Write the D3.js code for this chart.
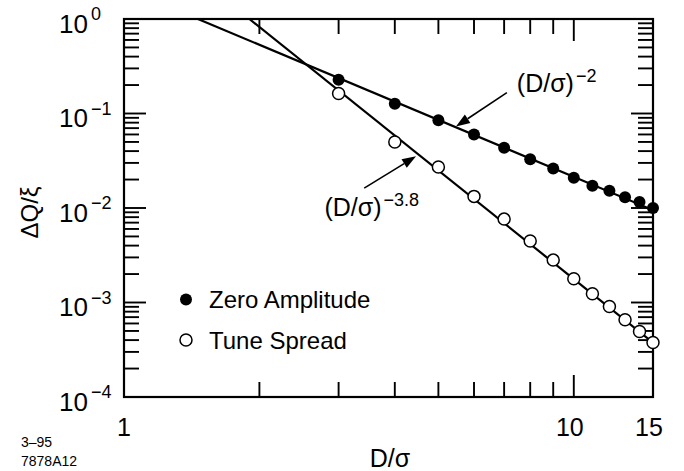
<!DOCTYPE html>
<html><head><meta charset="utf-8">
<script src="https://cdn.jsdelivr.net/npm/d3@7"></script>
<style>
body{margin:0;background:#fff}
svg{display:block}
text{font-family:"Liberation Sans",Arial,Helvetica,sans-serif;fill:#000}
</style>
</head><body>
<svg id="c" width="684" height="471"></svg>
<script>
// ---- data ----
const dOverSigma = [3,4,5,6,7,8,9,10,11,12,13,14,15];
const zeroAmplitude = [0.228,0.127,0.085,0.060,0.0435,0.0328,0.0262,0.0209,0.0172,0.0152,0.0130,0.0116,0.0100];
const tuneSpread = [0.1625,0.0499,0.0272,0.01327,0.00763,0.00448,0.00281,0.00178,0.00124,0.000907,0.000656,0.000493,0.000377];
const zeroFitX = [1.46, 15], zeroFitY = [1.0, 0.0095];
const tuneFitX = [1.9, 15],  tuneFitY = [1.0, 0.000377];
const xTickLabels = [1, 10, 15];
const xMinorTicks = [2,3,4,5,6,7,8,9];
const xMajorTicks = [10];
const yTickValues = [1, 0.1, 0.01, 0.001, 0.0001];
const yTickExponents = ["0","−1","−2","−3","−4"];
const legendLabels = ["Zero Amplitude", "Tune Spread"];
const annoLabels = ["(D/σ)", "(D/σ)"];
const annoExponents = ["−2", "−3.8"];
const annoTextPos = [[7.47, 0.170], [2.79, 0.00822]];
const annoArrowFrom = [[7.10, 0.166], [3.42, 0.01625]];
const annoArrowTo = [[5.47, 0.0729], [4.46, 0.0353]];

// ---- layout ----
const L = 124, R = 653, T = 19, B = 397;
const svg = d3.select("#c");
const x = d3.scaleLog().domain([1, 15]).range([L, R]);
const y = d3.scaleLog().domain([1e-4, 1]).range([B, T]);

svg.append("defs").append("clipPath").attr("id","clip")
  .append("rect").attr("x",L).attr("y",T).attr("width",R-L).attr("height",B-T);

// ticks
const tk = svg.append("g").attr("stroke","#000").attr("stroke-width",1.9);
const minorLen = 15, majorLen = 22;
xMinorTicks.concat(xMajorTicks).forEach(v=>{
  const len = xMajorTicks.includes(v) ? majorLen : minorLen;
  tk.append("line").attr("x1",x(v)).attr("x2",x(v)).attr("y1",B).attr("y2",B-len);
  tk.append("line").attr("x1",x(v)).attr("x2",x(v)).attr("y1",T).attr("y2",T+len);
});
y.ticks().forEach(v=>{
  const isMajor = yTickValues.some(m=>Math.abs(Math.log10(m)-Math.log10(v))<1e-6);
  if (isMajor && (v===1 || Math.abs(v-1e-4)<1e-12)) return;
  const len = isMajor ? majorLen : minorLen;
  tk.append("line").attr("x1",L).attr("x2",L+len).attr("y1",y(v)).attr("y2",y(v));
  tk.append("line").attr("x1",R).attr("x2",R-len).attr("y1",y(v)).attr("y2",y(v));
});

// frame
svg.append("rect").attr("x",L).attr("y",T).attr("width",R-L).attr("height",B-T)
  .attr("fill","none").attr("stroke","#000").attr("stroke-width",2.2);

// x tick labels
svg.append("g").selectAll("text").data(xTickLabels).join("text")
  .attr("x",d=>x(d)-(d===1?0:4)).attr("y",436).attr("text-anchor","middle")
  .attr("font-size",25).text(d=>d);

// y tick labels
const yl = svg.append("g");
yTickValues.forEach((v,i)=>{
  yl.append("text").attr("x",59).attr("y",y(v)+13.5).attr("font-size",26).text("10");
  yl.append("text").attr("x",91).attr("y",y(v)+1).attr("font-size",18).text(yTickExponents[i]);
});

// axis titles
svg.append("text").attr("x",390).attr("y",467).attr("text-anchor","middle")
  .attr("font-size",25).text("D/σ");
svg.append("text").attr("transform","translate(38,212.5) rotate(-90)")
  .attr("text-anchor","middle").attr("font-size",24).text("ΔQ/ξ");

// footer
svg.append("text").attr("x",21).attr("y",447).attr("font-size",14).text("3–95");
svg.append("text").attr("x",21).attr("y",466).attr("font-size",14).text("7878A12");

// fit lines
const line = d3.line().x(d=>x(d[0])).y(d=>y(d[1]));
const plot = svg.append("g").attr("clip-path","url(#clip)");
plot.append("path").attr("d",line(zeroFitX.map((v,i)=>[v,zeroFitY[i]])))
  .attr("fill","none").attr("stroke","#000").attr("stroke-width",2.2);
plot.append("path").attr("d",line(tuneFitX.map((v,i)=>[v,tuneFitY[i]])))
  .attr("fill","none").attr("stroke","#000").attr("stroke-width",2.2);

// points
svg.append("g").selectAll("circle").data(dOverSigma).join("circle")
  .attr("cx",d=>x(d)).attr("cy",(d,i)=>y(zeroAmplitude[i])).attr("r",6)
  .attr("fill","#000");
svg.append("g").selectAll("circle").data(dOverSigma).join("circle")
  .attr("cx",d=>x(d)).attr("cy",(d,i)=>y(tuneSpread[i])).attr("r",6)
  .attr("fill","#fff").attr("stroke","#000").attr("stroke-width",1.5);

// legend
const legY = [299.5, 340];
legendLabels.forEach((lab,i)=>{
  svg.append("circle").attr("cx",186).attr("cy",legY[i]).attr("r",6)
    .attr("fill",i===0?"#000":"#fff").attr("stroke","#000").attr("stroke-width",i===0?0:1.5);
  svg.append("text").attr("x",209).attr("y",legY[i]+8.5).attr("font-size",24).text(lab);
});

// annotations
annoLabels.forEach((lab,i)=>{
  const tx = x(annoTextPos[i][0]), ty = y(annoTextPos[i][1]);
  const t = svg.append("text").attr("x",tx).attr("y",ty).attr("font-size",25).text(lab);
  const w = t.node().getComputedTextLength();
  svg.append("text").attr("x",tx+w+2).attr("y",ty-10).attr("font-size",18).text(annoExponents[i]);
  const x1 = x(annoArrowFrom[i][0]), y1 = y(annoArrowFrom[i][1]);
  const x2 = x(annoArrowTo[i][0]), y2 = y(annoArrowTo[i][1]);
  const ang = Math.atan2(y2-y1, x2-x1);
  const hl = 14, hw = 5;
  const bx = x2 - hl*Math.cos(ang), by = y2 - hl*Math.sin(ang);
  svg.append("line").attr("x1",x1).attr("y1",y1).attr("x2",bx).attr("y2",by)
    .attr("stroke","#000").attr("stroke-width",1.6);
  const px = -Math.sin(ang), py = Math.cos(ang);
  svg.append("polygon").attr("points",[
    [x2,y2],[bx+hw*px,by+hw*py],[bx-hw*px,by-hw*py]].map(p=>p.join(",")).join(" "))
    .attr("fill","#000");
});
</script>
</body></html>
